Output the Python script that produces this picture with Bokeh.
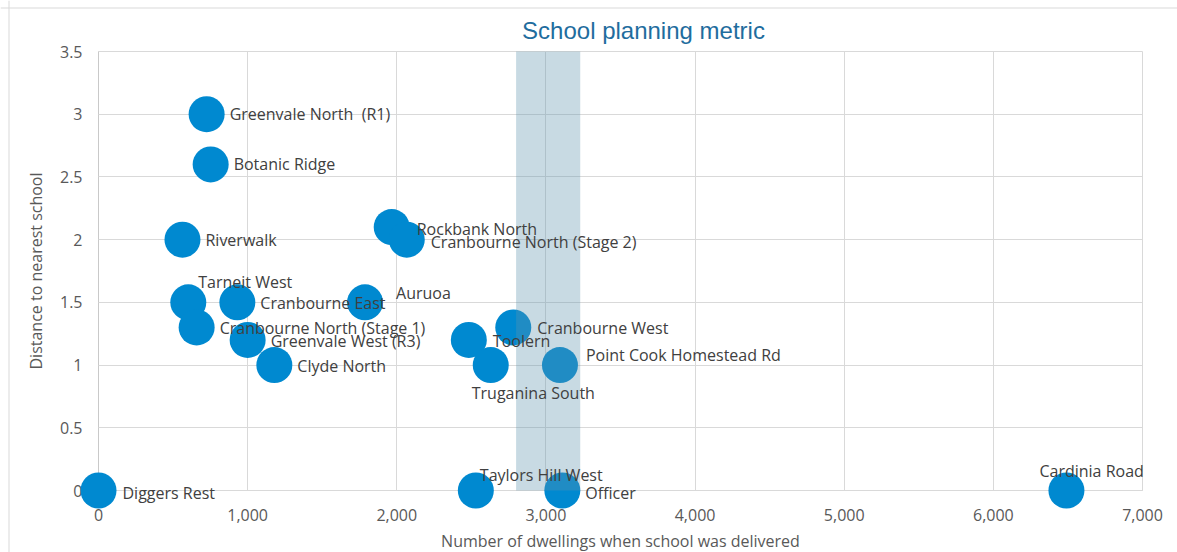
from bokeh.plotting import figure
from bokeh.models import ColumnDataSource, FixedTicker, NumeralTickFormatter, Label, Span, Range1d
from bokeh.core.properties import value
from bokeh.embed import file_html
from bokeh.resources import INLINE

# ---------------- data ----------------
names = ["Greenvale North\u00a0 (R1)", "Botanic Ridge", "Riverwalk", "Rockbank North",
         "Cranbourne North (Stage 2)", "Tarneit West", "Cranbourne East", "Auruoa",
         "Cranbourne North (Stage 1)", "Greenvale West (R3)", "Clyde North", "Toolern",
         "Cranbourne West", "Truganina South", "Point Cook Homestead Rd", "Diggers Rest",
         "Taylors Hill West", "Officer", "Cardinia Road"]
dwellings = [725, 752, 563, 1966, 2067, 602, 931, 1787, 658, 1000, 1179, 2483,
             2781, 2630, 3094, 0, 2530, 3110, 6490]
distance = [3.0, 2.6, 2.0, 2.1, 2.0, 1.5, 1.5, 1.5, 1.3, 1.2, 1.0, 1.2,
            1.3, 1.0, 1.0, 0.0, 0.0, 0.0, 0.0]

band_start, band_end = 2800, 3230          # shaded target range of dwellings

x_ticks = [0, 1000, 2000, 3000, 4000, 5000, 6000, 7000]
y_ticks = [0, 0.5, 1, 1.5, 2, 2.5, 3, 3.5]
y_tick_labels = ["0", "0.5", "1", "1.5", "2", "2.5", "3", "3.5"]

title_text = "School planning metric"
x_title = "Number of dwellings when school was delivered"
y_title = "Distance to nearest school"

# label placement (screen px, relative to point centre; +y is down)
label_dx = [23, 23, 23, 25, 24, 10, 23, 31, 23, 23, 23, 24, 24, -19, 26, 24, 4, 23, -27]
label_dy = [0, 0, 0, 2, 2, -20, 1, -9, 1, 1, 1, 1, 1, 28, -10, 2, -16, 2, -20]

# ---------------- layout ----------------
W, H = 1177, 552
FL, FR, FT, FB = 98, 1142, 51, 490      # plot-area edges in canvas px
X0, X1 = x_ticks[0], x_ticks[-1]
Y0, Y1 = y_ticks[0], y_ticks[-1]
sx = (FR - FL) / (X1 - X0)
sy = (FB - FT) / (Y1 - Y0)
x_start, x_end = X0 - FL / sx, X1 + (W - FR) / sx
y_start, y_end = Y0 - (H - FB) / sy, Y1 + FT / sy

FONT = "Open Sans"
GRID = "#d9d9d9"
FS = "16px"

p = figure(width=W, height=H, x_range=Range1d(x_start, x_end), y_range=Range1d(y_start, y_end),
           output_backend="svg", toolbar_location=None, tools="", min_border=0)
p.xgrid.visible = False
p.ygrid.visible = False
p.outline_line_color = None
p.background_fill_color = "white"
p.border_fill_color = "white"

xa = p.xaxis[0]
xa.fixed_location = Y0
xa.bounds = (X0, X1)
xa.ticker = FixedTicker(ticks=x_ticks, minor_ticks=[])
xa.formatter = NumeralTickFormatter(format="0,0")
xa.major_tick_in = FB - FT
xa.major_tick_out = 0
xa.major_tick_line_color = GRID
xa.minor_tick_line_color = None
xa.axis_line_color = "#c9c9c9"
xa.major_label_text_font = FONT
xa.major_label_text_font_size = FS
xa.major_label_text_color = "#595959"
xa.major_label_standoff = 18
xa.axis_label = x_title
xa.axis_label_text_font = FONT
xa.axis_label_text_font_size = FS
xa.axis_label_text_font_style = "normal"
xa.axis_label_text_color = "#595959"
xa.axis_label_standoff = 6
xa.level = "underlay"

ya = p.yaxis[0]
ya.fixed_location = X0
ya.bounds = (Y0, Y1)
ya.ticker = FixedTicker(ticks=y_ticks, minor_ticks=[])
ya.major_label_overrides = {t: l for t, l in zip(y_ticks, y_tick_labels)}
ya.major_tick_in = FR - FL
ya.major_tick_out = 0
ya.major_tick_line_color = GRID
ya.minor_tick_line_color = None
ya.axis_line_color = "#c9c9c9"
ya.major_label_text_font = FONT
ya.major_label_text_font_size = FS
ya.major_label_text_color = "#595959"
ya.major_label_standoff = 16
ya.axis_label = y_title
ya.axis_label_text_font = FONT
ya.axis_label_text_font_size = FS
ya.axis_label_text_font_style = "normal"
ya.axis_label_text_color = "#595959"
ya.axis_label_standoff = 10
ya.level = "underlay"

src = ColumnDataSource(dict(x=dwellings, y=distance, name=names, dx=label_dx, dy=label_dy))

p.scatter("x", "y", source=src, size=36, fill_color="#0089d0", line_color=None)
p.quad(left=[band_start], right=[band_end], bottom=[Y0], top=[Y1],
       fill_color="#5e93ad", fill_alpha=0.34, line_color=None)
p.text("x", "y", text="name", source=src, x_offset="dx", y_offset="dy",
       text_font=value(FONT), text_font_size=FS, text_color="#404040",
       text_baseline="middle", text_align="left")

p.add_layout(Label(x=643, y=H - 30, x_units="screen", y_units="screen", text=title_text,
                   text_font="Liberation Sans", text_font_size="24px", text_color="#1f6d9e",
                   text_align="center", text_baseline="alphabetic"))

# outer chart border (top and left edges visible in the reference)
p.add_layout(Span(location=y_end - 7.5 / sy, dimension="width", line_color=GRID, line_width=1))
p.add_layout(Span(location=x_start + 8.5 / sx, dimension="height", line_color=GRID, line_width=1))

open("out.html", "w").write(file_html(p, INLINE))
